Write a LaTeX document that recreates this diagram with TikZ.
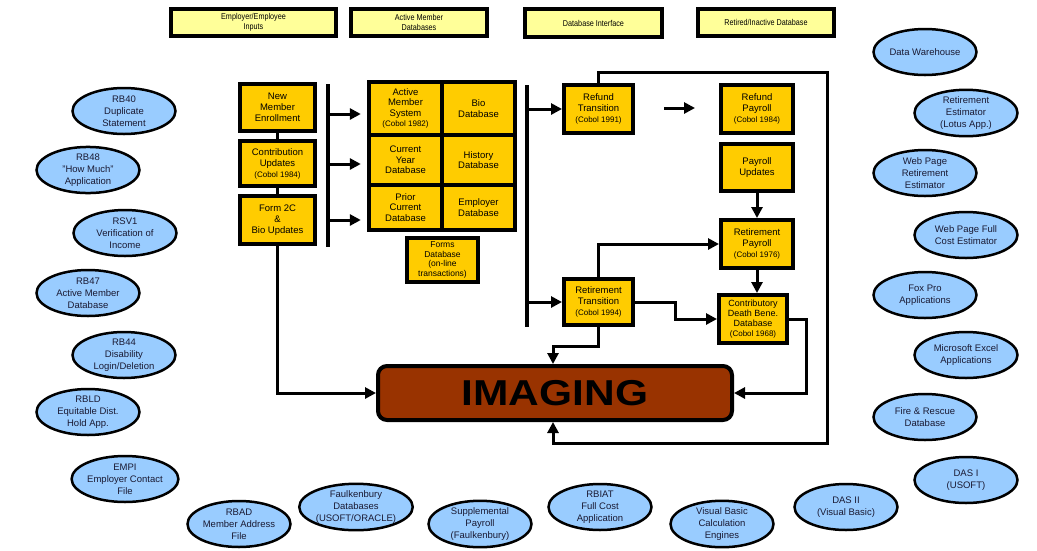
\documentclass[tikz,border=0pt]{standalone}
\usepackage{fontspec}
\setmainfont{Liberation Sans}
\newfontfamily\condfont[FakeStretch=0.85]{Liberation Sans}
\usetikzlibrary{arrows.meta,shapes.geometric,calc}
\definecolor{gold}{HTML}{FFCC00}
\definecolor{pale}{HTML}{FFFF99}
\definecolor{sky}{HTML}{99CCFF}
\definecolor{brick}{HTML}{993300}
\definecolor{ink}{HTML}{1A1A33}
\newcommand\cobfont{\fontsize{8}{10}\selectfont}
\begin{document}
\begin{tikzpicture}[x=1pt,y=-1pt,
  gbox/.style={draw,line width=4pt,fill=gold,inner sep=0pt,align=center,font=\fontsize{9.5}{11}\selectfont},
  cell/.style={fill=gold,inner sep=0pt,align=center,font=\fontsize{9.5}{10.5}\selectfont},
  hdr/.style={draw,line width=3.5pt,fill=pale,inner sep=0pt,align=center,font=\condfont\fontsize{8.5}{9.5}\selectfont},
  app/.style={ellipse,draw,line width=2.5pt,fill=sky,minimum width=103pt,minimum height=46pt,inner sep=0pt,align=center,text=ink,font=\fontsize{9.5}{12}\selectfont},
  conn/.style={line width=3pt},
  arr/.style={conn,-{Triangle[length=11pt,width=11pt]}},
  barline/.style={line width=4.5pt}]
\useasboundingbox (0,0) rectangle (1037,550);
\fill[white] (0,0) rectangle (1037,550);

% headers
\node[hdr,minimum width=165pt,minimum height=27pt] (h1) at (253.5,22.5) {Employer/Employee\\Inputs};
\node[hdr,minimum width=136pt,minimum height=27pt] (h2) at (419,22.5) {Active Member\\Databases};
\node[hdr,minimum width=137pt,minimum height=28pt] (h3) at (593.5,23) {Database Interface};
\node[hdr,minimum width=136pt,minimum height=27pt] (h4) at (766,22.5) {Retired/Inactive Database};

% input boxes
\node[gbox,minimum width=75pt,minimum height=47pt] (nme) at (277.5,107.5) {New\\Member\\Enrollment};
\node[gbox,minimum width=75pt,minimum height=45pt] (cu) at (277.5,163.5) {Contribution\\Updates\\{\cobfont (Cobol 1984)}};
\node[gbox,minimum width=75pt,minimum height=48pt] (f2c) at (277.5,220) {Form 2C\\\&\\Bio Updates};

% active member database group
\node[fill=black,minimum width=150pt,minimum height=152pt,inner sep=0pt] (grp) at (442,156) {};
\node[cell,minimum width=69pt,minimum height=49pt] (ams) at (405.5,108.5) {Active\\Member\\System\\{\cobfont (Cobol 1982)}};
\node[cell,minimum width=69pt,minimum height=49pt] (bio) at (478.5,108.5) {Bio\\Database};
\node[cell,minimum width=69pt,minimum height=46pt] (cyd) at (405.5,160) {Current\\Year\\Database};
\node[cell,minimum width=69pt,minimum height=46pt] (hist) at (478.5,160) {History\\Database};
\node[cell,minimum width=69pt,minimum height=41pt] (pcd) at (405.5,207.5) {Prior\\Current\\Database};
\node[cell,minimum width=69pt,minimum height=41pt] (emp) at (478.5,207.5) {Employer\\Database};
\node[gbox,minimum width=71pt,minimum height=44pt,font=\fontsize{8.5}{9.5}\selectfont] (forms) at (442.5,260) {Forms\\Database\\(on-line\\transactions)};

% interface / retired boxes
\node[gbox,minimum width=69pt,minimum height=48pt] (rt) at (598.5,109) {Refund\\Transition\\{\cobfont (Cobol 1991)}};
\node[gbox,minimum width=72pt,minimum height=48pt] (rp) at (757,109) {Refund\\Payroll\\{\cobfont (Cobol 1984)}};
\node[gbox,minimum width=72pt,minimum height=47pt] (pu) at (757,167.5) {Payroll\\Updates};
\node[gbox,minimum width=72pt,minimum height=48pt] (retp) at (757,244) {Retirement\\Payroll\\{\cobfont (Cobol 1976)}};
\node[gbox,minimum width=68pt,minimum height=48pt,font=\fontsize{9}{10}\selectfont] (cdb) at (753,319) {Contributory\\Death Bene.\\Database\\{\cobfont (Cobol 1968)}};
\node[gbox,minimum width=69pt,minimum height=46pt] (rett) at (598.5,302) {Retirement\\Transition\\{\cobfont (Cobol 1994)}};

% imaging
\node[draw,line width=4pt,fill=brick,rounded corners=9pt,minimum width=354pt,minimum height=54pt,inner sep=0pt,font=\fontsize{36}{36}\bfseries\selectfont] (img) at (555,393) {\scalebox{1.18}[1]{IMAGING}};

% bars
\coordinate (b1t) at (328,84);
\coordinate (b1b) at (328,247);
\draw[barline] (b1t) -- (b1b);
\coordinate (b2t) at (527,85);
\coordinate (b2b) at (527,327);
\draw[barline] (b2t) -- (b2b);

% connectors
\draw[conn] (nme) -- (cu);
\draw[conn] (cu) -- (f2c);
\coordinate (a1) at (330,114);
\coordinate (a2) at (330,164);
\coordinate (a3) at (330,220);
\draw[arr,shorten >=6pt] (a1) -- (a1 -| grp.west);
\draw[arr,shorten >=6pt] (a2) -- (a2 -| grp.west);
\draw[arr,shorten >=6pt] (a3) -- (a3 -| grp.west);
\draw[arr] (rt.west -| b2t) -- (rt.west);
\draw[arr] (rett.west -| b2t) -- (rett.west);
\coordinate (fa) at (664,108);
\coordinate (fb) at (695,108);
\draw[arr] (fa) -- (fb);
\draw[arr] (pu) -- (retp);
\draw[arr] (retp.south) -- (retp.south |- cdb.north);
\draw[arr] (rett.north) |- (retp.west);
\draw[arr] (rett.east) -- ++(40,0) |- (cdb.west);
\coordinate (ix) at (553,393);
\draw[arr] (rett.south) -- ++(0,19) -| (img.north -| ix);
\draw[arr] (f2c.south) |- (img.west);
\draw[arr] (cdb.east) -- ++(17,0) |- (img.east);
\coordinate (lp) at (827,443);
\draw[arr] (rt.north) -- ++(0,-11) -| (lp) -| (img.south -| ix);

% applications, left
\node[app] (rb40) at (124,111) {RB40\\Duplicate\\Statement};
\node[app] (rb48) at (88,170) {RB48\\"How Much"\\Application};
\node[app] (rsv1) at (125,233) {RSV1\\Verification of\\Income};
\node[app] (rb47) at (88,293) {RB47\\Active Member\\Database};
\node[app] (rb44) at (124,355) {RB44\\Disability\\Login/Deletion};
\node[app] (rbld) at (88,412) {RBLD\\Equitable Dist.\\Hold App.};
\node[app] (empi) at (125,479) {EMPI\\Employer Contact\\File};

% applications, bottom
\node[app] (rbad) at (239,524) {RBAD\\Member Address\\File};
\node[app] (faul) at (356,507) {Faulkenbury\\Databases\\(USOFT/ORACLE)};
\node[app] (supp) at (480,524) {Supplemental\\Payroll\\(Faulkenbury)};
\node[app] (rbiat) at (600,507) {RBIAT\\Full Cost\\Application};
\node[app] (vb) at (722,524) {Visual Basic\\Calculation\\Engines};
\node[app] (das2) at (846,507) {DAS II\\(Visual Basic)};

% applications, right
\node[app] (dw) at (925,52) {Data Warehouse};
\node[app] (re) at (966,113) {Retirement\\Estimator\\(Lotus App.)};
\node[app] (wpre) at (925,173) {Web Page\\Retirement\\Estimator};
\node[app] (wpfc) at (966,235) {Web Page Full\\Cost Estimator};
\node[app] (fox) at (925,295) {Fox Pro\\Applications};
\node[app] (mse) at (966,355) {Microsoft Excel\\Applications};
\node[app] (fire) at (925,417) {Fire \& Rescue\\Database};
\node[app] (das1) at (966,480) {DAS I\\(USOFT)};
\end{tikzpicture}
\end{document}
